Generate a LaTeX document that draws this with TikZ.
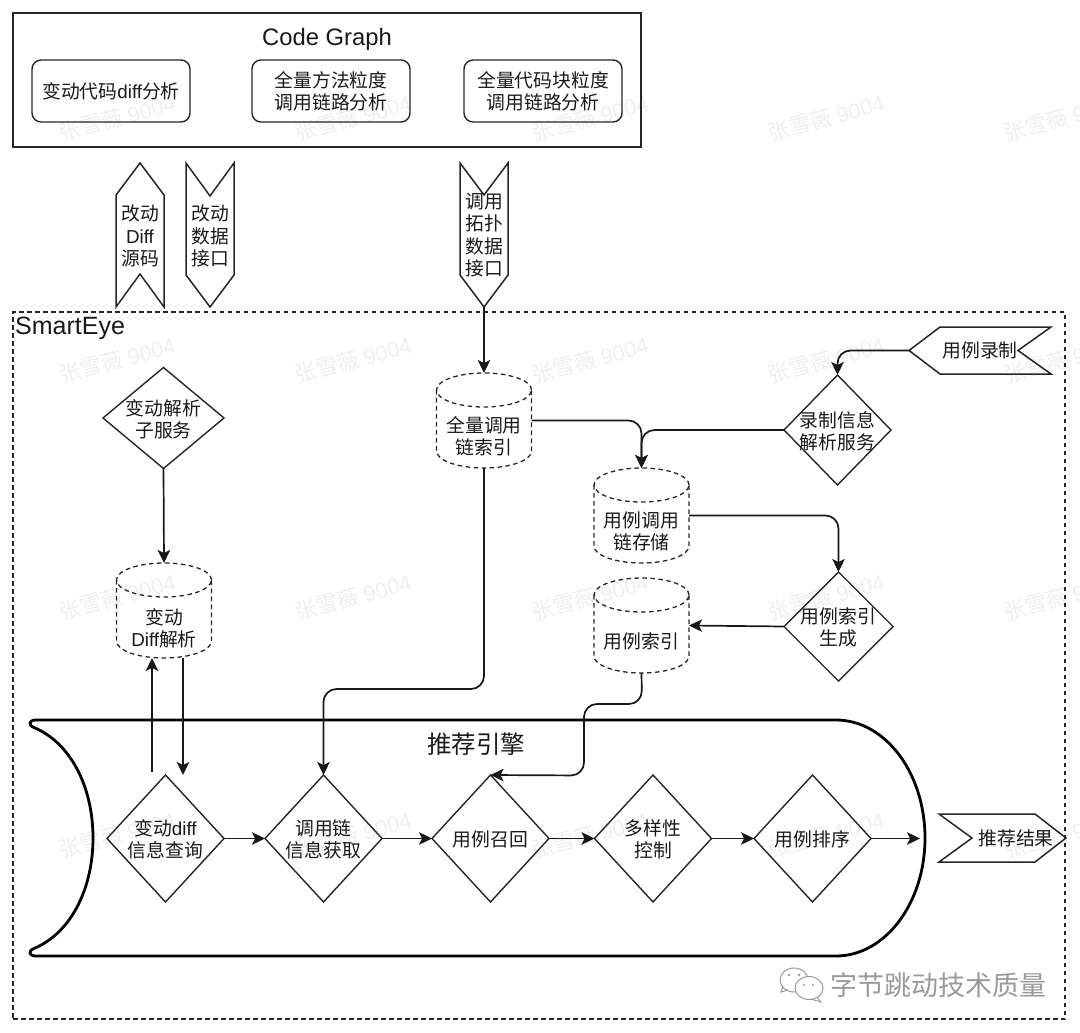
\documentclass[tikz,border=0pt]{standalone}
\usepackage{fontspec}
\setmainfont{Liberation Sans}
\newfontfamily\cjk{Noto Sans CJK SC}
\newfontfamily\latf{Liberation Sans}
\newcommand\lat[1]{{\latf #1}}
\usetikzlibrary{shapes.geometric,arrows.meta}
\definecolor{wm}{HTML}{EFEFEF}
\definecolor{wx}{HTML}{9A9A9A}
\tikzset{
  txt/.style={font=\fontsize{18.8}{22.4}\selectfont\cjk,align=center,inner sep=0pt,text=black!90,yshift=-1pt},
  frame/.style={draw=black!85,line width=1.5pt},
  hit/.style={inner sep=0pt,outer sep=0pt,minimum width=#1},
  hit/.default=95pt,
  dia/.style={diamond,draw=black!85,line width=1.4pt,inner sep=0pt,outer sep=0pt,minimum width=117pt,minimum height=127pt},
  dbline/.style={draw=black!85,line width=1.3pt,dash pattern=on 4.5pt off 3.5pt},
  conn/.style={draw=black!90,line width=1.7pt,-{Stealth[length=13pt,width=12.5pt,inset=3pt]}},
  curved/.style={conn,rounded corners=13pt},
  mark text/.style={font=\fontsize{22}{22}\selectfont\cjk,text=wm,rotate=15,inner sep=0pt},
}
\newcommand\dbcyl[6]{%
  \node[hit,minimum height={#4-#3 pt},label={[txt,yshift=-#6pt]center:#5}] (#1) at (#2,{(#3+#4)/2}) {};
  \draw[dbline] (#2,{#3+17}) ellipse [x radius=47.5pt,y radius=17pt];
  \draw[dbline] ({#2-47.5},{#3+17}) -- ({#2-47.5},{#4-17})
     arc[start angle=180,end angle=360,x radius=47.5pt,y radius=17pt] -- ({#2+47.5},{#3+17});
}
\begin{document}
\begin{tikzpicture}[x=1pt,y=-1pt]
\useasboundingbox (0,0) rectangle (1080,1033);
% watermarks
\foreach \yy/\idx in {118/a,360/b,597/c,835/d}{
  \foreach \xx in {117,353,590,826,1062}{
    \node[mark text] (wm\idx\xx) at (\xx,\yy) {张雪薇 \lat{9004}};
  }
}
% outer boxes
\node[frame,minimum width=628pt,minimum height=134pt,inner sep=0pt,outer sep=0pt] (cg) at (327,80) {};
\node[font=\fontsize{23.8}{24}\selectfont,inner sep=0pt,text=black!90] (cgt) at (327,39) {Code Graph};
\node[draw=black!85,line width=1.3pt,dash pattern=on 4.5pt off 3.5pt,minimum width=1052pt,minimum height=707pt,inner sep=0pt,outer sep=0pt] (se) at (539,665.5) {};
\node[font=\fontsize{25}{25}\selectfont,anchor=west,inner sep=0pt,text=black!90] (set) at (15,328) {SmartEye};
% code graph boxes
\foreach \nm/\cx/\tt in {b1/111/{变动代码\lat{diff}分析},b2/331/{全量方法粒度\\调用链路分析},b3/543/{全量代码块粒度\\调用链路分析}}{
  \node[txt,yshift=1pt,draw=black!85,line width=1.4pt,rounded corners=9pt,minimum width=158pt,minimum height=62pt] (\nm) at (\cx,91) {\tt};
}
% top banners
\node[txt,yshift=1pt,hit=48pt,minimum height=144pt] (s1) at (140,236) {改动\\\lat{Diff}\\源码};
\draw[frame] (116,307) -- (116,195) -- (140,163) -- (164,195) -- (164,307) -- (140,274) -- cycle;
\node[txt,yshift=1pt,hit=48pt,minimum height=144pt] (s2) at (210,236) {改动\\数据\\接口};
\draw[frame] (186,163) -- (210,196) -- (234,163) -- (234,275) -- (210,307) -- (186,275) -- cycle;
\node[txt,yshift=1pt,hit=48pt,minimum height=144pt] (s3) at (484,235) {调用\\拓扑\\数据\\接口};
\draw[frame] (460,163) -- (484,195) -- (508,163) -- (508,275) -- (484,307) -- (460,275) -- cycle;
% cylinders
\dbcyl{quan}{484}{373}{468}{全量调用\\链索引}{15}
\dbcyl{ycdy}{641.5}{468}{563}{用例调用\\链存储}{15}
\dbcyl{ylsy}{641.5}{578}{673}{用例索引}{15}
\dbcyl{bddf}{164}{563}{658}{变动\\\lat{Diff}解析}{17}
% diamonds upper
\node[dia,minimum width=121pt,minimum height=101pt,label={[txt]center:变动解析\\子服务}] (bdjx) at (163.5,418) {};
\node[dia,minimum width=107pt,minimum height=110pt,label={[txt]center:录制信息\\解析服务}] (lzxx) at (837.5,430) {};
\node[dia,minimum width=109pt,minimum height=109pt,label={[txt]center:用例索引\\生成}] (ysc) at (838.5,626.5) {};
% recording banner
\node[txt,yshift=1pt,hit=142pt,minimum height=47pt] (lz) at (980,350.5) {用例录制};
\draw[frame] (909,350.5) -- (940,327) -- (1051,327) -- (1018,350.5) -- (1051,374) -- (940,374) -- cycle;
% engine
\draw[black,line width=2.8pt,line join=round] (36,720) -- (836,720)
  arc[start angle=90,end angle=-90,x radius=89pt,y radius=118pt]
  -- (36,956) .. controls (29,956) and (27,951) .. (35,948)
  .. controls (70,933) and (93,890) .. (93,838)
  .. controls (93,786) and (70,743) .. (35,728)
  .. controls (27,725) and (29,720) .. (36,720) -- cycle;
\node[font=\fontsize{24.5}{25}\selectfont\cjk,inner sep=0pt,text=black!90] (eng) at (476,744) {推荐引擎};
% engine diamonds
\node[dia,label={[txt]center:变动\lat{diff}\\信息查询}] (q1) at (165.5,838.5) {};
\node[dia,label={[txt]center:调用链\\信息获取}] (q2) at (323.5,838.5) {};
\node[dia,label={[txt]center:用例召回}] (q3) at (490.5,838.5) {};
\node[dia,label={[txt]center:多样性\\控制}] (q4) at (653,838.5) {};
\node[dia,label={[txt]center:用例排序}] (q5) at (812.5,838.5) {};
% result banner
\node[txt,yshift=1pt,hit=127pt,minimum height=48pt] (res) at (1002.5,838) {\hspace*{27pt}推荐结果};
\draw[frame] (939,814) -- (1035,814) -- (1066,838) -- (1035,862) -- (939,862) -- (972,838) -- cycle;
% connector helpers
\coordinate (j1) at (484,689);
\coordinate (j2) at (642,704);
\coordinate (j3) at (584,704);
\coordinate (j4) at (584,775.5);
\coordinate (upa) at (152,772);
\coordinate (upb) at (152,658);
\coordinate (dna) at (183,658);
\coordinate (dnb) at (183,775);
\coordinate (out) at (920,838.5);
% connectors
\draw[conn] (s3.south) -- (quan.north);
\draw[conn] (bdjx.south) -- (bddf.north);
\draw[conn] (upa) -- (upb);
\draw[conn] (dna) -- (dnb);
\draw[curved] (quan.east) -| (ycdy.north);
\draw[curved] (lzxx.west) -| (ycdy.north);
\draw[curved] (lz.west) -| (lzxx.north);
\draw[curved] (ycdy.east) -| (ysc.north);
\draw[conn] (ysc.west) -- (ylsy.east);
\draw[curved] (quan.south) -- (j1) -| (q2.north);
\draw[curved] (ylsy.south) -- (j2) -- (j3) -- (j4) -- (q3.north);
\draw[conn] (q1.east) -- (q2.west);
\draw[conn] (q2.east) -- (q3.west);
\draw[conn] (q3.east) -- (q4.west);
\draw[conn] (q4.east) -- (q5.west);
\draw[conn] (q5.east) -- (out);
% wechat mark
\begin{scope}[draw=wx,line width=1pt]
  \draw[fill=white] (794,980) ellipse [x radius=14pt,y radius=12pt];
  \draw (783,986) -- (781,992) -- (788,990);
  \draw[fill=white] (809,988) ellipse [x radius=14pt,y radius=11.5pt];
  \draw (817,997) -- (821,1002) -- (811,999);
  \fill[wx] (789,975) circle (1.4pt) (799,975) circle (1.4pt) (804,985) circle (1.2pt) (813,985) circle (1.2pt);
\end{scope}
\node[font=\fontsize{27}{27}\selectfont\cjk,text=wx,inner sep=0pt,anchor=west] (brand) at (830,985) {字节跳动技术质量};
\end{tikzpicture}
\end{document}
